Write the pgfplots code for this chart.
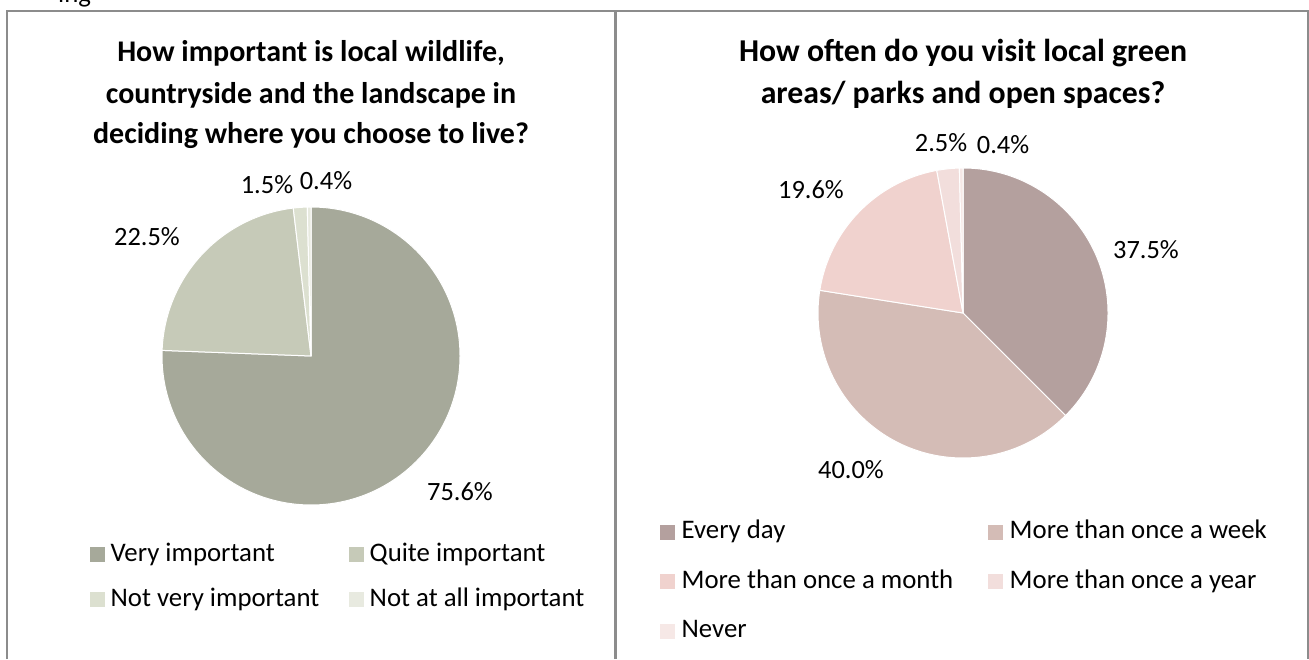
\documentclass[border=0pt]{standalone}
\usepackage{fontspec}
\setmainfont{Carlito}
\usepackage{pgfplots}
\usepackage{pgfplotstable}
\pgfplotsset{compat=1.18}

\definecolor{framegray}{RGB}{140,140,140}
% left pie colours
\definecolor{imp0}{RGB}{166,169,154}
\definecolor{imp1}{RGB}{198,202,184}
\definecolor{imp2}{RGB}{220,224,208}
\definecolor{imp3}{RGB}{232,234,224}
% right pie colours
\definecolor{vis0}{RGB}{180,160,158}
\definecolor{vis1}{RGB}{212,188,182}
\definecolor{vis2}{RGB}{240,210,206}
\definecolor{vis3}{RGB}{242,222,220}
\definecolor{vis4}{RGB}{246,232,230}

% share (%), label position
\pgfplotstableread{
value lx  ly
75.6  460 167
22.5  147 422
1.5   267 474
0.4   326 478
}\importance

\pgfplotstableread{
value lx   ly
37.5  1146 409
40.0  851  189
19.6  811  469
2.5   941  516
0.4   1003 514
}\visits

% slices clockwise from 12 o'clock
\newcommand\drawpie[5]{% table, colour prefix, cx, cy, r
  \pgfplotstablegetrowsof{#1}%
  \pgfmathtruncatemacro\lastrow{\pgfplotsretval-1}%
  \def\startang{90}%
  \pgfplotsforeachungrouped \i in {0,...,\lastrow}{%
    \pgfplotstablegetelem{\i}{value}\of{#1}%
    \pgfmathsetmacro\endang{\startang-3.6*\pgfplotsretval}%
    \edef\slicecmd{\noexpand\fill[#2\i, draw=white, line width=1pt, line join=round]
      (axis cs:#3,#4) -- ++(\startang:#5pt)
      arc[start angle=\startang, end angle=\endang, radius=#5pt] -- cycle;}%
    \slicecmd
    \let\startang\endang
  }%
}

\newcommand\labelfont{\fontsize{26.4}{31}\selectfont}
\newcommand\legendfont{\fontsize{26.8}{32}\selectfont}

\pgfplotsset{
  pieaxis/.style={
    at={(0pt,0pt)}, anchor=south west,
    x=1pt, y=1pt, xmin=0, xmax=1309, ymin=0, ymax=659,
    hide axis, clip=false,
    /pgf/number format/assume math mode=true,
    legend style={draw=none, fill=none, inner sep=0pt, font=\legendfont,
      nodes={inner sep=0pt, text height=19pt, text depth=6pt},
      legend cell align=left},
  },
  sq/.style={legend image code/.code={\fill[#1] (0pt,-7pt) rectangle (14pt,7pt);}},
  pielabels/.style={forget plot, only marks, mark=none, point meta=explicit,
    nodes near coords={\pgfmathprintnumber[fixed, fixed zerofill, precision=1]{\pgfplotspointmeta}\%},
    nodes near coords style={anchor=center, font=\labelfont, inner sep=0pt}},
}

\begin{document}
\begin{tikzpicture}
  % left chart
  \begin{axis}[pieaxis,
      legend columns=2,
      legend style={at={(axis cs:90,82)}, anchor=west,
        /tikz/every odd column/.append style={column sep=6pt},
        /tikz/every even column/.append style={column sep=30pt},
        /tikz/row sep=20pt}]
    \drawpie{\importance}{imp}{311}{303}{149}
    \addplot[pielabels] table[x=lx, y=ly, meta=value] {\importance};
    \addlegendimage{sq=imp0}\addlegendentry{Very important}
    \addlegendimage{sq=imp1}\addlegendentry{Quite important}
    \addlegendimage{sq=imp2}\addlegendentry{Not very important}
    \addlegendimage{sq=imp3}\addlegendentry{Not at all important}
  \end{axis}

  % right chart
  \begin{axis}[pieaxis,
      legend columns=2,
      legend style={at={(axis cs:660,77.5)}, anchor=west,
        /tikz/every odd column/.append style={column sep=7pt},
        /tikz/every even column/.append style={column sep=35pt},
        /tikz/row sep=24.5pt}]
    \drawpie{\visits}{vis}{963}{346}{145}
    \addplot[pielabels] table[x=lx, y=ly, meta=value] {\visits};
    \addlegendimage{sq=vis0}\addlegendentry{Every day}
    \addlegendimage{sq=vis1}\addlegendentry{More than once a week}
    \addlegendimage{sq=vis2}\addlegendentry{More than once a month}
    \addlegendimage{sq=vis3}\addlegendentry{More than once a year}
    \addlegendimage{sq=vis4}\addlegendentry{Never}
  \end{axis}

  % titles
  \begin{scope}[every node/.style={anchor=base, font=\fontsize{30}{36}\selectfont\bfseries}]
    \node at (311pt,597pt) {How important is local wildlife,};
    \node at (311pt,555pt) {countryside and the landscape in};
    \node at (311pt,515pt) {deciding where you choose to live?};
  \end{scope}
  \begin{scope}[every node/.style={anchor=base, font=\fontsize{31.8}{38}\selectfont\bfseries}]
    \node at (963pt,597pt) {How often do you visit local green};
    \node at (963pt,555pt) {areas/ parks and open spaces?};
  \end{scope}

  % text of the page above, cut off
  \node[anchor=base west, font=\legendfont, inner sep=0pt] at (58pt,656pt) {ing};

  % frames
  \draw[framegray, line width=2pt] (7pt,0pt) -- (7pt,647.5pt) -- (1307.5pt,647.5pt) -- (1307.5pt,0pt);
  \draw[framegray, line width=3.5pt] (615.5pt,0pt) -- (615.5pt,647.5pt);

  \pgfresetboundingbox
  \path[use as bounding box] (0pt,0pt) rectangle (1309pt,659pt);
\end{tikzpicture}
\end{document}
